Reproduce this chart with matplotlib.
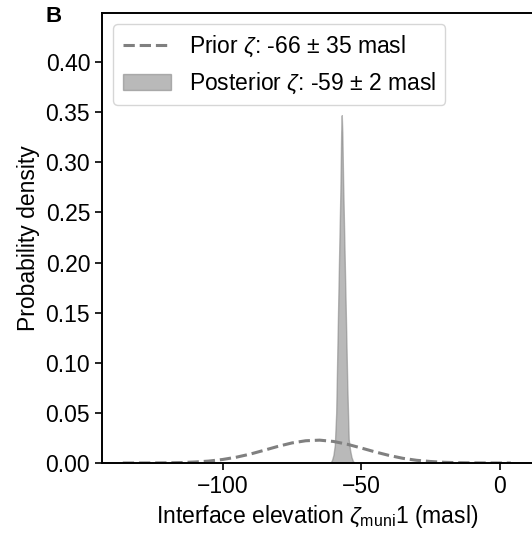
import matplotlib
matplotlib.use('Agg')
import matplotlib.pyplot as plt

plt.rcParams['font.family'] = ['Liberation Sans', 'DejaVu Sans']
plt.rcParams['mathtext.fontset'] = 'custom'
plt.rcParams['mathtext.rm'] = 'Liberation Sans'
plt.rcParams['mathtext.it'] = 'Liberation Sans:italic'
plt.rcParams['font.size'] = 16.5

# prior density
prior_x = [-136, -130, -125, -120, -115, -110, -105, -100, -95, -90, -85, -80,
           -75, -70, -65, -60, -55, -50, -45, -40, -35, -30, -25, -20, -15,
           -10, -5, 0, 4]
prior_y = [0.0000, 0.00003, 0.00008, 0.0002, 0.00045, 0.001, 0.0019, 0.0035,
           0.0058, 0.0089, 0.0127, 0.0166, 0.0200, 0.0222, 0.0228, 0.0215,
           0.0187, 0.0150, 0.0111, 0.0076, 0.0047, 0.0027, 0.0015, 0.0007,
           0.0003, 0.00014, 0.00005, 0.00002, 0.0000]

# posterior density
post_x = [-61.0, -60.5, -60.0, -59.5, -59.0, -58.5, -58.0, -57.5, -57.2, -57.0,
          -56.8, -56.5, -56.0, -55.5, -55.0, -54.5, -54.0, -53.5, -53.0, -52.5]
post_y = [0.0005, 0.003, 0.008, 0.018, 0.05, 0.126, 0.20, 0.27, 0.33, 0.347,
          0.33, 0.28, 0.212, 0.145, 0.077, 0.024, 0.013, 0.006, 0.002, 0.0005]

prior_label = r'Prior $\zeta$: -66 ± 35 masl'
post_label = r'Posterior $\zeta$: -59 ± 2 masl'

fig = plt.figure(figsize=(5.32, 5.38), dpi=100)
ax = fig.add_axes([102 / 532, 75 / 538, 431 / 532, 450 / 538])

ax.plot(prior_x, prior_y, ls='--', color='gray', lw=2.2, label=prior_label)
ax.fill_between(post_x, post_y, color='gray', alpha=0.55, lw=1.0,
                edgecolor='gray', label=post_label)

ax.set_xlim(-143.5, 12)
ax.set_ylim(0, 0.449)
ax.set_xticks([-100, -50, 0])
ax.set_yticks([0.0, 0.05, 0.10, 0.15, 0.20, 0.25, 0.30, 0.35, 0.40])
ax.yaxis.set_major_formatter(matplotlib.ticker.FormatStrFormatter('%.2f'))
ax.tick_params(length=5, width=1.2)
for s in ax.spines.values():
    s.set_linewidth(1.4)

ax.set_xlabel(r'Interface elevation $\zeta_{\mathrm{muni}}$1 (masl)')
ax.set_ylabel('Probability density')
ax.legend(loc='upper left', handlelength=2.1)

fig.text(54 / 532, 1 - 17 / 538, 'B', fontweight='bold', fontsize=16,
         ha='center', va='center')

fig.savefig('out.png', dpi=100)
